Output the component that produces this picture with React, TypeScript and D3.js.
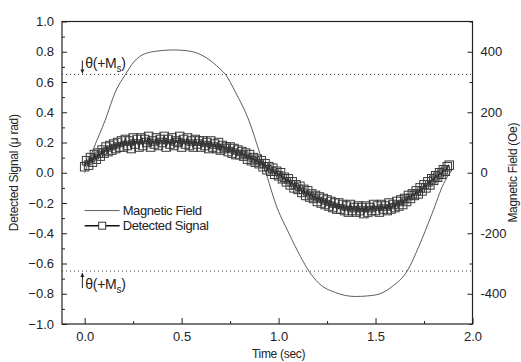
import React, { useRef, useEffect } from "react";
import * as d3 from "d3";

// Magnetic field trace (time in s, field in Oe)
const FIELD_TIME = [0, 0.046, 0.106, 0.158, 0.21, 0.253, 0.313, 0.399, 0.46, 0.53, 0.6, 0.66, 0.7, 0.726, 0.777, 0.846, 0.898, 0.941, 0.984, 1.053, 1.113, 1.156, 1.207, 1.293, 1.396, 1.5, 1.586, 1.663, 1.723, 1.792, 1.852, 1.887];
const FIELD_OE = [0, 80, 174, 267, 325, 366, 394, 404, 406, 403, 390, 365, 342, 325, 267, 174, 75, -13, -101, -200, -277, -325, -365, -396, -409, -404, -376, -325, -244, -134, -35, 3];

// Detected signal samples (time in s, signal in μrad)
const SIGNAL_TIME = [
  0.00, 0.01, 0.02, 0.03, 0.04, 0.05, 0.06, 0.07, 0.08, 0.09,
  0.10, 0.11, 0.12, 0.13, 0.14, 0.15, 0.16, 0.17, 0.18, 0.19,
  0.20, 0.21, 0.22, 0.23, 0.24, 0.25, 0.26, 0.27, 0.28, 0.29,
  0.30, 0.31, 0.32, 0.33, 0.34, 0.35, 0.36, 0.37, 0.38, 0.39,
  0.40, 0.41, 0.42, 0.43, 0.44, 0.45, 0.46, 0.47, 0.48, 0.49,
  0.50, 0.51, 0.52, 0.53, 0.54, 0.55, 0.56, 0.57, 0.58, 0.59,
  0.60, 0.61, 0.62, 0.63, 0.64, 0.65, 0.66, 0.67, 0.68, 0.69,
  0.70, 0.71, 0.72, 0.73, 0.74, 0.75, 0.76, 0.77, 0.78, 0.79,
  0.80, 0.81, 0.82, 0.83, 0.84, 0.85, 0.86, 0.87, 0.88, 0.89,
  0.90, 0.91, 0.92, 0.93, 0.94, 0.95, 0.96, 0.97, 0.98, 0.99,
  1.00, 1.01, 1.02, 1.03, 1.04, 1.05, 1.06, 1.07, 1.08, 1.09,
  1.10, 1.11, 1.12, 1.13, 1.14, 1.15, 1.16, 1.17, 1.18, 1.19,
  1.20, 1.21, 1.22, 1.23, 1.24, 1.25, 1.26, 1.27, 1.28, 1.29,
  1.30, 1.31, 1.32, 1.33, 1.34, 1.35, 1.36, 1.37, 1.38, 1.39,
  1.40, 1.41, 1.42, 1.43, 1.44, 1.45, 1.46, 1.47, 1.48, 1.49,
  1.50, 1.51, 1.52, 1.53, 1.54, 1.55, 1.56, 1.57, 1.58, 1.59,
  1.60, 1.61, 1.62, 1.63, 1.64, 1.65, 1.66, 1.67, 1.68, 1.69,
  1.70, 1.71, 1.72, 1.73, 1.74, 1.75, 1.76, 1.77, 1.78, 1.79,
  1.80, 1.81, 1.82, 1.83, 1.84, 1.85, 1.86, 1.87, 1.88,
];
const SIGNAL_VALUE = [
  0.04, 0.08, 0.05, 0.10, 0.07, 0.12, 0.09, 0.13, 0.11, 0.15,
  0.13, 0.17, 0.14, 0.18, 0.15, 0.19, 0.16, 0.20, 0.17, 0.21,
  0.17, 0.22, 0.18, 0.21, 0.16, 0.23, 0.19, 0.22, 0.17, 0.23,
  0.18, 0.22, 0.20, 0.24, 0.17, 0.21, 0.19, 0.23, 0.18, 0.22,
  0.20, 0.24, 0.17, 0.22, 0.19, 0.23, 0.18, 0.21, 0.20, 0.24,
  0.17, 0.22, 0.19, 0.23, 0.18, 0.21, 0.17, 0.22, 0.19, 0.21,
  0.17, 0.21, 0.18, 0.20, 0.16, 0.21, 0.17, 0.19, 0.16, 0.20,
  0.15, 0.18, 0.16, 0.17, 0.14, 0.17, 0.13, 0.16, 0.12, 0.15,
  0.12, 0.14, 0.11, 0.13, 0.09, 0.12, 0.08, 0.10, 0.07, 0.09,
  0.06, 0.08, 0.04, 0.06, 0.02, 0.04, 0.01, 0.03, -0.01, 0.01,
  -0.02, 0.00, -0.04, -0.03, -0.06, -0.04, -0.08, -0.06, -0.10, -0.08,
  -0.11, -0.09, -0.13, -0.11, -0.15, -0.12, -0.16, -0.14, -0.17, -0.15,
  -0.19, -0.16, -0.20, -0.17, -0.21, -0.18, -0.22, -0.19, -0.23, -0.20,
  -0.24, -0.20, -0.24, -0.21, -0.25, -0.22, -0.26, -0.21, -0.25, -0.23,
  -0.26, -0.22, -0.25, -0.23, -0.27, -0.22, -0.26, -0.23, -0.25, -0.21,
  -0.25, -0.22, -0.26, -0.21, -0.24, -0.22, -0.25, -0.20, -0.24, -0.21,
  -0.23, -0.19, -0.22, -0.18, -0.21, -0.17, -0.19, -0.15, -0.17, -0.14,
  -0.15, -0.12, -0.14, -0.10, -0.12, -0.08, -0.10, -0.06, -0.08, -0.04,
  -0.05, -0.02, -0.03, 0.00, -0.01, 0.02, 0.01, 0.04, 0.05,
];

const X_TICKS = [0, 0.5, 1.0, 1.5, 2.0];
const X_MINOR = [0.25, 0.75, 1.25, 1.75];
const LEFT_TICKS = [-1.0, -0.8, -0.6, -0.4, -0.2, 0.0, 0.2, 0.4, 0.6, 0.8, 1.0];
const LEFT_MINOR = [-0.9, -0.7, -0.5, -0.3, -0.1, 0.1, 0.3, 0.5, 0.7, 0.9];
const RIGHT_TICKS = [-400, -200, 0, 200, 400];
const RIGHT_MINOR = [-500, -300, -100, 100, 300, 500];
const SATURATION = [0.65, -0.65];

const FONT = "'Liberation Sans', Arial, sans-serif";
const INK = "#222";

export default function App() {
  const svgRef = useRef<SVGSVGElement>(null);

  useEffect(() => {
    if (!svgRef.current) return;
    const svg = d3.select(svgRef.current);
    svg.selectAll("*").remove();

    const width = 521;
    const height = 362;
    const margin = { top: 21.5, right: 48.5, bottom: 38, left: 62 };
    const innerWidth = width - margin.left - margin.right;
    const innerHeight = height - margin.top - margin.bottom;

    const x = d3.scaleLinear().domain([-0.117, 2.0]).range([0, innerWidth]);
    const y = d3.scaleLinear().domain([-1, 1]).range([innerHeight, 0]);
    const yField = d3.scaleLinear().domain([-500, 500]).range([innerHeight, 0]);

    const g = svg.append("g").attr("transform", `translate(${margin.left},${margin.top})`);

    // saturation dotted lines
    SATURATION.forEach(v => {
      g.append("line")
        .attr("x1", 0).attr("x2", innerWidth)
        .attr("y1", y(v)).attr("y2", y(v))
        .attr("stroke", "#444")
        .attr("stroke-width", 1)
        .attr("stroke-dasharray", "1,3");
    });

    // magnetic field
    const fieldData = FIELD_TIME.map((t, i) => ({ t, v: FIELD_OE[i] }));
    g.append("path")
      .datum(fieldData)
      .attr("fill", "none")
      .attr("stroke", "#333")
      .attr("stroke-width", 0.8)
      .attr("d", d3.line<{ t: number; v: number }>()
        .x(d => x(d.t))
        .y(d => yField(d.v))
        .curve(d3.curveMonotoneX));

    // detected signal
    const sigData = SIGNAL_TIME.map((t, i) => ({ t, v: SIGNAL_VALUE[i] }));
    g.append("path")
      .datum(sigData)
      .attr("fill", "none")
      .attr("stroke", "#111")
      .attr("stroke-width", 1.5)
      .attr("d", d3.line<{ t: number; v: number }>().x(d => x(d.t)).y(d => y(d.v)));

    const sq = 8.5;
    g.selectAll("rect.sig")
      .data(sigData)
      .join("rect")
      .attr("class", "sig")
      .attr("x", d => x(d.t) - sq / 2)
      .attr("y", d => y(d.v) - sq / 2)
      .attr("width", sq)
      .attr("height", sq)
      .attr("fill", "none")
      .attr("stroke", "#3a3a3a")
      .attr("stroke-width", 1);

    // frame
    g.append("rect")
      .attr("width", innerWidth)
      .attr("height", innerHeight)
      .attr("fill", "none")
      .attr("stroke", INK)
      .attr("stroke-width", 1.2);

    const styleAxis = (sel: d3.Selection<SVGGElement, unknown, null, undefined>) => {
      sel.select(".domain").remove();
      sel.selectAll("line").attr("stroke", INK).attr("stroke-width", 1);
      sel.selectAll("text")
        .attr("fill", INK)
        .style("font-family", FONT)
        .style("font-size", "13px");
    };

    const bottom = g.append("g").attr("transform", `translate(0,${innerHeight})`)
      .call(d3.axisBottom(x).tickValues(X_TICKS).tickFormat(d => d3.format(".1f")(Number(d))).tickSize(-6).tickPadding(8));
    styleAxis(bottom);
    const bottomMinor = g.append("g").attr("transform", `translate(0,${innerHeight})`)
      .call(d3.axisBottom(x).tickValues(X_MINOR).tickFormat(() => "").tickSize(-3));
    styleAxis(bottomMinor);

    const left = g.append("g")
      .call(d3.axisLeft(y).tickValues(LEFT_TICKS).tickFormat(d => d3.format(".1f")(Number(d))).tickSize(-5).tickPadding(8));
    styleAxis(left);
    const leftMinor = g.append("g")
      .call(d3.axisLeft(y).tickValues(LEFT_MINOR).tickFormat(() => "").tickSize(-3));
    styleAxis(leftMinor);

    const right = g.append("g").attr("transform", `translate(${innerWidth},0)`)
      .call(d3.axisRight(yField).tickValues(RIGHT_TICKS).tickFormat(d => `${d}`).tickSize(-5).tickPadding(8));
    styleAxis(right);
    const rightMinor = g.append("g").attr("transform", `translate(${innerWidth},0)`)
      .call(d3.axisRight(yField).tickValues(RIGHT_MINOR).tickFormat(() => "").tickSize(-3));
    styleAxis(rightMinor);

    // axis titles
    g.append("text")
      .attr("x", x(1.0))
      .attr("y", innerHeight + 34)
      .attr("text-anchor", "middle")
      .style("font-family", FONT)
      .style("font-size", "12px")
      .style("letter-spacing", "-0.3px")
      .attr("fill", INK)
      .text("Time (sec)");

    g.append("text")
      .attr("transform", `translate(${-margin.left + 18},${y(0)}) rotate(-90)`)
      .attr("text-anchor", "middle")
      .style("font-family", FONT)
      .style("font-size", "12px")
      .style("letter-spacing", "-0.3px")
      .attr("fill", INK)
      .text("Detected Signal (\u03bc rad)");

    g.append("text")
      .attr("transform", `translate(${innerWidth + 44},${y(0)}) rotate(-90)`)
      .attr("text-anchor", "middle")
      .style("font-family", FONT)
      .style("font-size", "12px")
      .style("letter-spacing", "-0.3px")
      .attr("fill", INK)
      .text("Magnetic Field (Oe)");

    // legend
    const lx = x(0);
    const ly1 = y(-0.25);
    const ly2 = y(-0.35);
    g.append("line").attr("x1", lx).attr("x2", lx + 35).attr("y1", ly1).attr("y2", ly1)
      .attr("stroke", "#333").attr("stroke-width", 0.8);
    g.append("line").attr("x1", lx).attr("x2", lx + 35).attr("y1", ly2).attr("y2", ly2)
      .attr("stroke", "#111").attr("stroke-width", 1.5);
    g.append("rect").attr("x", lx + 17.5 - 3.5).attr("y", ly2 - 3.5).attr("width", 7).attr("height", 7)
      .attr("fill", "white").attr("stroke", "#333");
    [["Magnetic Field", ly1], ["Detected Signal", ly2]].forEach(([label, ly]) => {
      g.append("text")
        .attr("x", lx + 38)
        .attr("y", Number(ly))
        .attr("dy", "0.35em")
        .style("font-family", FONT)
        .style("font-size", "13px")
        .style("letter-spacing", "-0.4px")
        .attr("fill", INK)
        .text(String(label));
    });

    // saturation annotations
    const annotate = (v: number, up: boolean) => {
      const ax = x(-0.012);
      const base = up ? y(v) + 18 : y(v) - 6;
      const a0 = up ? y(v) + 2 : y(v) - 14;
      const a1 = up ? y(v) + 17 : y(v) - 1;
      g.append("line").attr("x1", ax).attr("x2", ax).attr("y1", a0).attr("y2", a1)
        .attr("stroke", INK).attr("stroke-width", 1);
      const tip = up ? a0 : a1;
      const dir = up ? 1 : -1;
      g.append("path")
        .attr("d", `M${ax - 2},${tip + dir * 4}L${ax},${tip}L${ax + 2},${tip + dir * 4}Z`)
        .attr("fill", INK);
      const t = g.append("text")
        .attr("x", ax + 3)
        .attr("y", base)
        .style("font-family", FONT)
        .style("font-size", "14px")
        .style("letter-spacing", "-0.3px")
        .attr("fill", INK);
      t.append("tspan").text("\u03b8(+M");
      t.append("tspan").attr("dy", 4).style("font-size", "10px").text("s");
      t.append("tspan").attr("dy", -4).text(")");
    };
    annotate(SATURATION[0], false);
    annotate(SATURATION[1], true);
  }, []);

  return (
    <svg
      ref={svgRef}
      width={521}
      height={362}
      style={{ position: "absolute", left: 0, top: 0, display: "block", background: "white" }}
    />
  );
}
